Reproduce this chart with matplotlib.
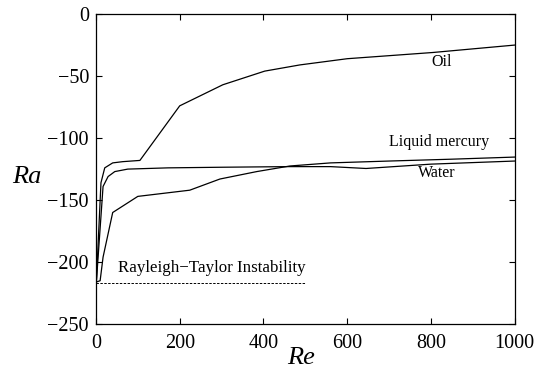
import matplotlib
matplotlib.use('Agg')
import matplotlib.pyplot as plt

plt.rcParams['font.family'] = ['Liberation Serif', 'DejaVu Serif']
plt.rcParams['mathtext.fontset'] = 'stix'

# curves (Re, Ra)
oil_re = [1, 12, 21, 40, 64, 105, 200, 303, 403, 487, 600, 804, 1000]
oil_ra = [-216, -136, -124, -120, -119, -118, -74, -57, -46, -41, -36, -31, -25]

merc_re = [1, 17, 29, 45, 76, 172, 300, 460, 560, 645, 800, 1000]
merc_ra = [-216, -139, -131, -127, -125, -124, -123.5, -123, -123, -124.5, -121, -118.5]

water_re = [1, 10, 17, 40, 100, 224, 296, 384, 463, 560, 700, 850, 1000]
water_ra = [-216, -215, -196, -160, -147, -142, -133, -127, -122.5, -120, -118.5, -117, -115.3]

rt_re = [0, 500]
rt_ra = [-216.5, -216.5]

fig = plt.figure(figsize=(5.39, 3.80), dpi=100)
ax = fig.add_axes([0.178, 0.147, 0.777, 0.816])

ax.plot(oil_re, oil_ra, color='black', lw=0.9)
ax.plot(merc_re, merc_ra, color='black', lw=0.9)
ax.plot(water_re, water_ra, color='black', lw=0.9)
ax.plot(rt_re, rt_ra, color='black', lw=0.7, ls=(0, (2.5, 1.5)))

ax.text(826, -39, 'Oil', fontsize=11.5, ha='center', va='center')
ax.text(820, -103, 'Liquid mercury', fontsize=11.5, ha='center', va='center')
ax.text(814, -128, 'Water', fontsize=11.5, ha='center', va='center')
ax.text(52, -205, 'Rayleigh\u2212Taylor Instability', fontsize=12.2, ha='left', va='center')

ax.set_xlim(0, 1000)
ax.set_ylim(-250, 0)
ax.set_xticks([0, 200, 400, 600, 800, 1000])
ax.set_yticks([-250, -200, -150, -100, -50, 0])
ax.set_yticklabels(['\u2212250', '\u2212200', '\u2212150', '\u2212100', '\u221250', '0'])
ax.tick_params(direction='in', top=True, right=True, length=4, width=0.8,
               labelsize=14.5)
ax.tick_params(axis='x', pad=7)
ax.tick_params(axis='y', pad=5)
for s in ax.spines.values():
    s.set_linewidth(0.9)

ax.set_xlabel('Re', fontsize=19, style='italic', va='center')
ax.xaxis.set_label_coords(0.49, -0.11)
ax.set_ylabel('Ra', fontsize=19, style='italic', rotation=0, ha='center', va='center')
ax.yaxis.set_label_coords(-0.165, 0.474)

fig.savefig('out.png', dpi=100)
